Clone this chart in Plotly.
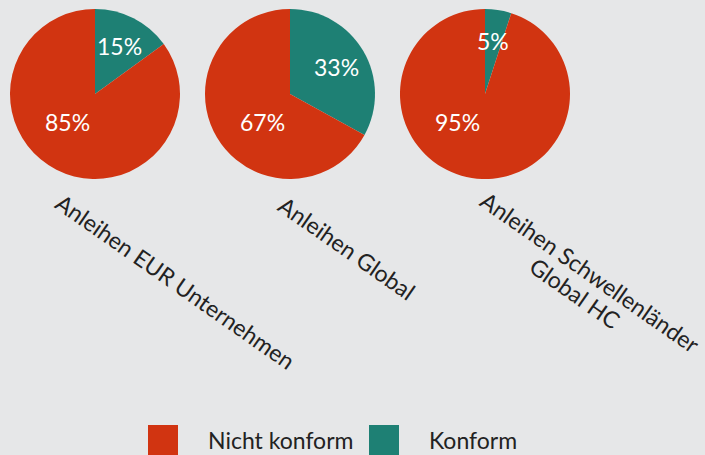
import math
import plotly.graph_objects as go

# Data
categories = ["Anleihen EUR Unternehmen", "Anleihen Global", "Anleihen Schwellenländer<br>Global HC"]
series_names = ["Konform", "Nicht konform"]
konform = [15, 33, 5]
nicht_konform = [85, 67, 95]

colors = {"Konform": "#1e8074", "Nicht konform": "#d13411"}
bg = "#e6e7e8"
font_family = "Lato, 'Noto Sans', sans-serif"
FS = 23

W, H = 705, 455
fig = go.Figure()

# pie domains (pixel boxes converted to paper fractions)
pie_boxes = [(10, 180), (205, 375), (400, 570)]
y_top, y_bot = 9, 179
for i, cat in enumerate(categories):
    x0, x1 = pie_boxes[i]
    vals = [konform[i], nicht_konform[i]]
    fig.add_trace(go.Pie(
        labels=series_names,
        values=vals,
        marker=dict(colors=[colors[n] for n in series_names], line=dict(width=0)),
        sort=False,
        direction="clockwise",
        rotation=0,
        textinfo="none",
        hoverinfo="label+value",
        showlegend=False,
        domain=dict(x=[x0 / W, x1 / W], y=[1 - y_bot / H, 1 - y_top / H]),
    ))
    # percentage labels placed from the slice angles
    cx, cy = (x0 + x1) / 2, (y_top + y_bot) / 2
    R = (x1 - x0) / 2
    total = sum(vals)
    start = 0.0
    for v in vals:
        span = 360.0 * v / total
        end = start + span
        if span <= 180:
            ang, rf = start + span / 2, 0.63
        else:
            lo, hi = max(start, 180), min(end, 270)
            ang, rf = (lo + hi) / 2, 0.46
        a = math.radians(ang)
        px = cx + rf * R * math.sin(a)
        py = cy - rf * R * math.cos(a)
        fig.add_annotation(text=f"{v}%", x=px / W, y=1 - py / H, xref="paper", yref="paper",
                           xanchor="center", yanchor="middle", showarrow=False,
                           font=dict(size=FS, color="white", family=font_family))
        start = end

# category labels rotated below each pie (each line placed separately)
ANGLE = 35
label_centers = [(175, 281), (347, 248), (590, 272)]
line_gap = 26
for cat, (cx, cy) in zip(categories, label_centers):
    lines = cat.split("<br>")
    a = math.radians(ANGLE)
    for k, ln in enumerate(lines):
        lx = cx - k * line_gap * math.sin(a)
        ly = cy + k * line_gap * math.cos(a)
        fig.add_annotation(
            text=ln, x=lx / W, y=1 - ly / H, xref="paper", yref="paper",
            xanchor="center", yanchor="middle", showarrow=False, textangle=ANGLE,
            font=dict(size=FS, color="#222222", family=font_family),
        )

# custom legend
legend_order = ["Nicht konform", "Konform"]
legend_x = [148, 369]
for name, lx in zip(legend_order, legend_x):
    fig.add_shape(type="rect", xref="paper", yref="paper",
                  x0=lx / W, x1=(lx + 30) / W, y0=0, y1=30 / H,
                  fillcolor=colors[name], line=dict(width=0))
    fig.add_annotation(text=name, x=(lx + 58) / W, y=15 / H, xref="paper", yref="paper",
                       xanchor="left", yanchor="middle", showarrow=False,
                       font=dict(size=FS, color="#222222", family=font_family))

fig.update_layout(
    width=W, height=H,
    margin=dict(l=0, r=0, t=0, b=0),
    paper_bgcolor=bg, plot_bgcolor=bg,
    showlegend=False,
)
fig.write_html("out.html", post_script="document.body.style.margin='0';",
               config={"displayModeBar": False})
